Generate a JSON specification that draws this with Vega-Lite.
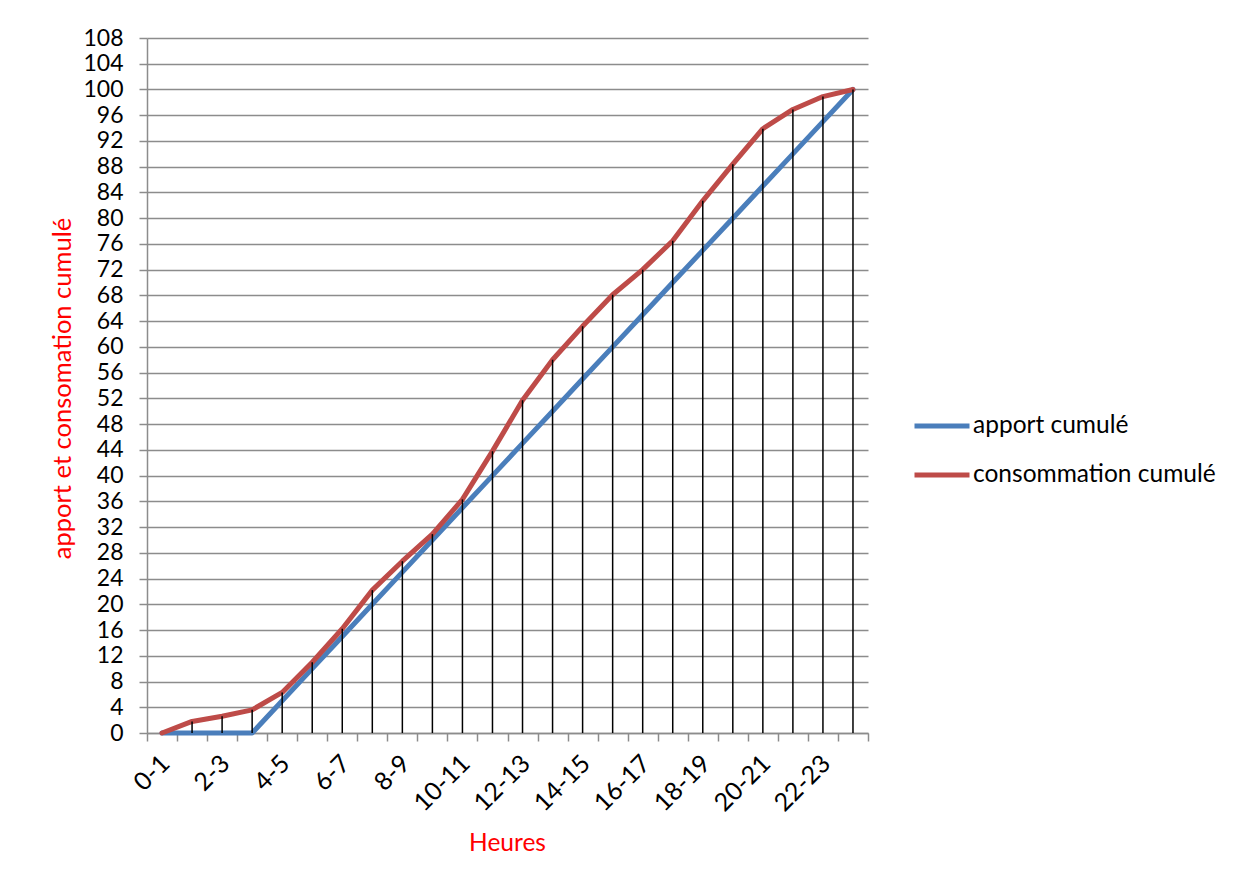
{
  "$schema": "https://vega.github.io/schema/vega-lite/v6.json",
  "width": 721,
  "height": 695,
  "autosize": {"type": "none"},
  "padding": {"left": 147, "top": 38, "right": 378, "bottom": 151},
  "background": "white",
  "config": {
    "font": "Lato",
    "view": {"stroke": null},
    "axis": {"labelFont": "Lato", "titleFont": "Lato", "labelColor": "black", "titleFontWeight": "normal"}
  },
  "data": {
    "values": [
      {"heure": "0-1", "serie": "apport cumulé", "valeur": 0},
      {"heure": "1-2", "serie": "apport cumulé", "valeur": 0},
      {"heure": "2-3", "serie": "apport cumulé", "valeur": 0},
      {"heure": "3-4", "serie": "apport cumulé", "valeur": 0},
      {"heure": "4-5", "serie": "apport cumulé", "valeur": 5},
      {"heure": "5-6", "serie": "apport cumulé", "valeur": 10},
      {"heure": "6-7", "serie": "apport cumulé", "valeur": 15},
      {"heure": "7-8", "serie": "apport cumulé", "valeur": 20},
      {"heure": "8-9", "serie": "apport cumulé", "valeur": 25},
      {"heure": "9-10", "serie": "apport cumulé", "valeur": 30},
      {"heure": "10-11", "serie": "apport cumulé", "valeur": 35},
      {"heure": "11-12", "serie": "apport cumulé", "valeur": 40},
      {"heure": "12-13", "serie": "apport cumulé", "valeur": 45},
      {"heure": "13-14", "serie": "apport cumulé", "valeur": 50},
      {"heure": "14-15", "serie": "apport cumulé", "valeur": 55},
      {"heure": "15-16", "serie": "apport cumulé", "valeur": 60},
      {"heure": "16-17", "serie": "apport cumulé", "valeur": 65},
      {"heure": "17-18", "serie": "apport cumulé", "valeur": 70},
      {"heure": "18-19", "serie": "apport cumulé", "valeur": 75},
      {"heure": "19-20", "serie": "apport cumulé", "valeur": 80},
      {"heure": "20-21", "serie": "apport cumulé", "valeur": 85},
      {"heure": "21-22", "serie": "apport cumulé", "valeur": 90},
      {"heure": "22-23", "serie": "apport cumulé", "valeur": 95},
      {"heure": "23-24", "serie": "apport cumulé", "valeur": 100},
      {"heure": "0-1", "serie": "consommation cumulé", "valeur": 0},
      {"heure": "1-2", "serie": "consommation cumulé", "valeur": 1.8},
      {"heure": "2-3", "serie": "consommation cumulé", "valeur": 2.6},
      {"heure": "3-4", "serie": "consommation cumulé", "valeur": 3.6},
      {"heure": "4-5", "serie": "consommation cumulé", "valeur": 6.3},
      {"heure": "5-6", "serie": "consommation cumulé", "valeur": 11},
      {"heure": "6-7", "serie": "consommation cumulé", "valeur": 16.2},
      {"heure": "7-8", "serie": "consommation cumulé", "valeur": 22.2},
      {"heure": "8-9", "serie": "consommation cumulé", "valeur": 26.7},
      {"heure": "9-10", "serie": "consommation cumulé", "valeur": 30.9},
      {"heure": "10-11", "serie": "consommation cumulé", "valeur": 36.3},
      {"heure": "11-12", "serie": "consommation cumulé", "valeur": 43.8},
      {"heure": "12-13", "serie": "consommation cumulé", "valeur": 51.7},
      {"heure": "13-14", "serie": "consommation cumulé", "valeur": 58},
      {"heure": "14-15", "serie": "consommation cumulé", "valeur": 63.2},
      {"heure": "15-16", "serie": "consommation cumulé", "valeur": 68.1},
      {"heure": "16-17", "serie": "consommation cumulé", "valeur": 72},
      {"heure": "17-18", "serie": "consommation cumulé", "valeur": 76.5},
      {"heure": "18-19", "serie": "consommation cumulé", "valeur": 82.7},
      {"heure": "19-20", "serie": "consommation cumulé", "valeur": 88.4},
      {"heure": "20-21", "serie": "consommation cumulé", "valeur": 93.9},
      {"heure": "21-22", "serie": "consommation cumulé", "valeur": 96.9},
      {"heure": "22-23", "serie": "consommation cumulé", "valeur": 98.9},
      {"heure": "23-24", "serie": "consommation cumulé", "valeur": 100}
    ]
  },
  "encoding": {
    "x": {
      "field": "heure",
      "type": "nominal",
      "bandPosition": 0.5,
      "scale": {
        "type": "band",
        "paddingInner": 0,
        "paddingOuter": 0,
        "domain": ["0-1","1-2","2-3","3-4","4-5","5-6","6-7","7-8","8-9","9-10","10-11","11-12","12-13","13-14","14-15","15-16","16-17","17-18","18-19","19-20","20-21","21-22","22-23","23-24"]
      },
      "axis": {
        "title": "Heures",
        "titleColor": "#FF0000",
        "titleFontSize": 24.5,
        "titleX": 360,
        "titleY": 110,
        "titleAlign": "center",
        "titleBaseline": "middle",
        "tickBand": "extent",
        "labelAngle": -45,
        "labelAlign": "right",
        "labelBaseline": "middle",
        "labelFontSize": 25,
        "labelPadding": 18,
        "labelOffset": 3,
        "labelExpr": "indexof(['0-1','2-3','4-5','6-7','8-9','10-11','12-13','14-15','16-17','18-19','20-21','22-23'], datum.value) >= 0 ? datum.value : ''",
        "domainColor": "#8c8c8c",
        "domainWidth": 1.5,
        "tickColor": "#8c8c8c",
        "tickWidth": 1.5,
        "tickSize": 8,
        "grid": false
      }
    },
    "y": {
      "field": "valeur",
      "type": "quantitative",
      "scale": {"domain": [0, 108], "nice": false, "zero": true},
      "axis": {
        "title": "apport et consomation cumulé",
        "titleColor": "#FF0000",
        "titleFontSize": 25.5,
        "titleAngle": -90,
        "titleX": -85,
        "titleY": 350,
        "titleAlign": "center",
        "titleBaseline": "middle",
        "values": [0,4,8,12,16,20,24,28,32,36,40,44,48,52,56,60,64,68,72,76,80,84,88,92,96,100,104,108],
        "labelFontSize": 23,
        "labelPadding": 16,
        "labelOverlap": false,
        "labelFlush": false,
        "grid": true,
        "gridColor": "#8c8c8c",
        "gridWidth": 1.5,
        "domainColor": "#8c8c8c",
        "domainWidth": 1.5,
        "tickColor": "#8c8c8c",
        "tickWidth": 1.5,
        "tickSize": 8
      }
    }
  },
  "layer": [
    {
      "mark": {"type": "line", "strokeWidth": 5, "strokeCap": "round", "strokeJoin": "round"},
      "encoding": {
        "color": {
          "field": "serie",
          "type": "nominal",
          "scale": {"domain": ["apport cumulé", "consommation cumulé"], "range": ["#4A7EBB", "#BE4B48"]},
          "legend": {
            "title": null,
            "orient": "none",
            "legendX": 765,
            "legendY": 358,
            "padding": 0,
            "symbolType": "stroke",
            "symbolSize": 3025,
            "symbolStrokeWidth": 5,
            "labelFontSize": 24.5,
            "labelFont": "Lato",
            "labelColor": "black",
            "labelOffset": 1,
            "labelLimit": 0,
            "rowPadding": 7
          }
        }
      }
    },
    {
      "transform": [{"filter": "datum.serie == 'consommation cumulé'"}],
      "mark": {"type": "rule", "color": "black", "strokeWidth": 1.5},
      "encoding": {
        "y2": {"datum": 0}
      }
    }
  ]
}
